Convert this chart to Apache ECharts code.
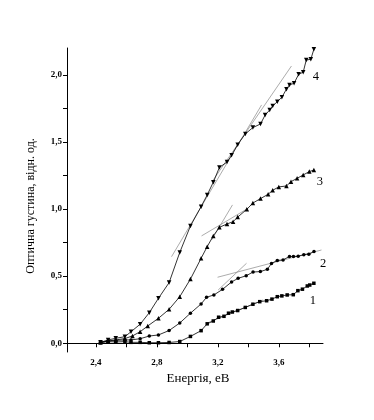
<!DOCTYPE html>
<html><head><meta charset="utf-8">
<script src="https://cdn.jsdelivr.net/npm/echarts@6/dist/echarts.min.js"></script>
<style>html,body{margin:0;padding:0;background:#fff}#c{width:374px;height:420px}</style>
</head><body><div id="c"></div><script>
// tick values
const xTickValues = [2.4,2.6,2.8,3.0,3.2,3.4,3.6,3.8];
const xLabelValues = [2.4,2.8,3.2,3.6];
const yTickValues = [0,0.25,0.5,0.75,1.0,1.25,1.5,1.75,2.0];
const yLabelValues = [0,0.5,1.0,1.5,2.0];
const curveNames = ['1','2','3','4'];

// curve 1 (squares)
const curve1 = [[2.43,0.007],[2.48,0.012],[2.53,0.010],[2.59,0.012],[2.63,0.007],[2.69,0.007],[2.75,0.004],[2.81,0.004],[2.88,0.006],[2.95,0.013],[3.02,0.051],[3.09,0.094],[3.13,0.145],[3.17,0.166],[3.205,0.194],[3.24,0.201],[3.27,0.224],[3.295,0.233],[3.33,0.244],[3.38,0.267],[3.43,0.291],[3.475,0.310],[3.52,0.317],[3.555,0.329],[3.59,0.347],[3.62,0.353],[3.655,0.360],[3.695,0.362],[3.725,0.392],[3.755,0.403],[3.787,0.427],[3.803,0.434],[3.83,0.447]];
// curve 2 (circles)
const curve2 = [[2.43,0.007],[2.48,0.017],[2.53,0.021],[2.59,0.025],[2.63,0.025],[2.69,0.034],[2.75,0.054],[2.81,0.062],[2.88,0.095],[2.95,0.151],[3.02,0.224],[3.09,0.293],[3.126,0.343],[3.174,0.360],[3.231,0.402],[3.29,0.457],[3.333,0.484],[3.386,0.503],[3.431,0.531],[3.479,0.534],[3.525,0.551],[3.552,0.595],[3.59,0.617],[3.628,0.621],[3.67,0.647],[3.696,0.647],[3.727,0.648],[3.764,0.660],[3.797,0.664],[3.831,0.683]];
// curve 3 (triangles up)
const curve3 = [[2.43,0.005],[2.48,0.017],[2.53,0.025],[2.59,0.035],[2.64,0.055],[2.69,0.086],[2.74,0.129],[2.81,0.186],[2.88,0.253],[2.95,0.347],[3.02,0.478],[3.09,0.633],[3.13,0.72],[3.17,0.80],[3.21,0.864],[3.26,0.889],[3.30,0.906],[3.33,0.94],[3.39,0.998],[3.43,1.045],[3.48,1.078],[3.53,1.11],[3.56,1.14],[3.60,1.165],[3.65,1.172],[3.68,1.204],[3.72,1.229],[3.76,1.254],[3.80,1.279],[3.83,1.291]];
// curve 4 (triangles down)
const curve4 = [[2.43,0.007],[2.48,0.025],[2.53,0.037],[2.59,0.049],[2.63,0.086],[2.69,0.142],[2.75,0.228],[2.81,0.335],[2.88,0.452],[2.95,0.677],[3.02,0.874],[3.09,1.018],[3.13,1.105],[3.17,1.200],[3.21,1.310],[3.26,1.35],[3.29,1.40],[3.33,1.48],[3.38,1.56],[3.43,1.607],[3.48,1.634],[3.51,1.70],[3.54,1.738],[3.56,1.768],[3.59,1.80],[3.62,1.833],[3.65,1.893],[3.67,1.925],[3.70,1.937],[3.73,2.004],[3.76,2.02],[3.78,2.11],[3.81,2.116],[3.83,2.19]];

// tangent lines
const tangent1 = [[3.126,0.149],[3.497,0.323]];
const tangent2a = [[3.198,0.492],[3.880,0.695]];
const tangent2b = [[3.202,0.397],[3.388,0.596]];
const tangent3a = [[3.093,0.800],[3.399,1.006]];
const tangent3b = [[3.159,0.770],[3.296,1.031]];
const tangent4a = [[2.896,0.645],[3.487,1.776]];
const tangent4b = [[3.161,1.202],[3.683,2.066]];

const fmt = v => v.toFixed(1).replace('.', ',');
const serif = 'Liberation Serif';

function curve(data, symbol, size, rot, name, off) {
  return {
    type: 'line', data: data, symbol: symbol, symbolSize: size, symbolRotate: rot,
    lineStyle: {color: '#000', width: 0.8}, itemStyle: {color: '#000'},
    animation: false, silent: true,
    endLabel: {show: true, formatter: () => name, fontFamily: serif, fontSize: 12.5, color: '#000', offset: off}
  };
}
function tangent(data) {
  return {type: 'line', data: data, symbol: 'none', lineStyle: {color: '#888', width: 0.7}, animation: false, silent: true};
}

const chart = echarts.init(document.getElementById('c'), null, {renderer: 'canvas'});
chart.setOption({
  backgroundColor: '#fff',
  grid: {left: 67, top: 48, width: 256, height: 304},
  xAxis: {
    type: 'value', min: 2.21, max: 3.89,
    name: 'Енергія, еВ', nameLocation: 'middle', nameGap: 19,
    nameTextStyle: {fontFamily: serif, fontSize: 13, color: '#000', padding: [0, 0, 0, 6]},
    axisLine: {lineStyle: {color: '#000', width: 1}},
    axisTick: {show: true, length: 4, customValues: xTickValues, lineStyle: {color: '#000'}},
    axisLabel: {customValues: xLabelValues, formatter: fmt, fontFamily: serif, fontWeight: 'bold', fontSize: 9, color: '#000', margin: 6},
    splitLine: {show: false}
  },
  yAxis: {
    type: 'value', min: -0.065, max: 2.2,
    name: 'Оптична густина, відн. од.', nameLocation: 'middle', nameGap: 30,
    nameTextStyle: {fontFamily: serif, fontSize: 12, color: '#000', padding: [0, 12, 0, 0]},
    axisLine: {show: true, lineStyle: {color: '#000', width: 1}},
    axisTick: {show: true, length: 4, customValues: yTickValues, lineStyle: {color: '#000'}},
    axisLabel: {customValues: yLabelValues, formatter: fmt, fontFamily: serif, fontWeight: 'bold', fontSize: 9, color: '#000', margin: 5},
    splitLine: {show: false}
  },
  series: [
    tangent(tangent1), tangent(tangent2a), tangent(tangent2b), tangent(tangent3a), tangent(tangent3b), tangent(tangent4a), tangent(tangent4b),
    curve(curve1, 'rect', 3.5, 0, curveNames[0], [-12, 17]),
    curve(curve2, 'circle', 3.5, 0, curveNames[1], [-2, 12]),
    curve(curve3, 'triangle', 4.5, 0, curveNames[2], [-5, 12]),
    curve(curve4, 'triangle', 4.5, 180, curveNames[3], [-9, 27])
  ]
});
</script></body></html>
